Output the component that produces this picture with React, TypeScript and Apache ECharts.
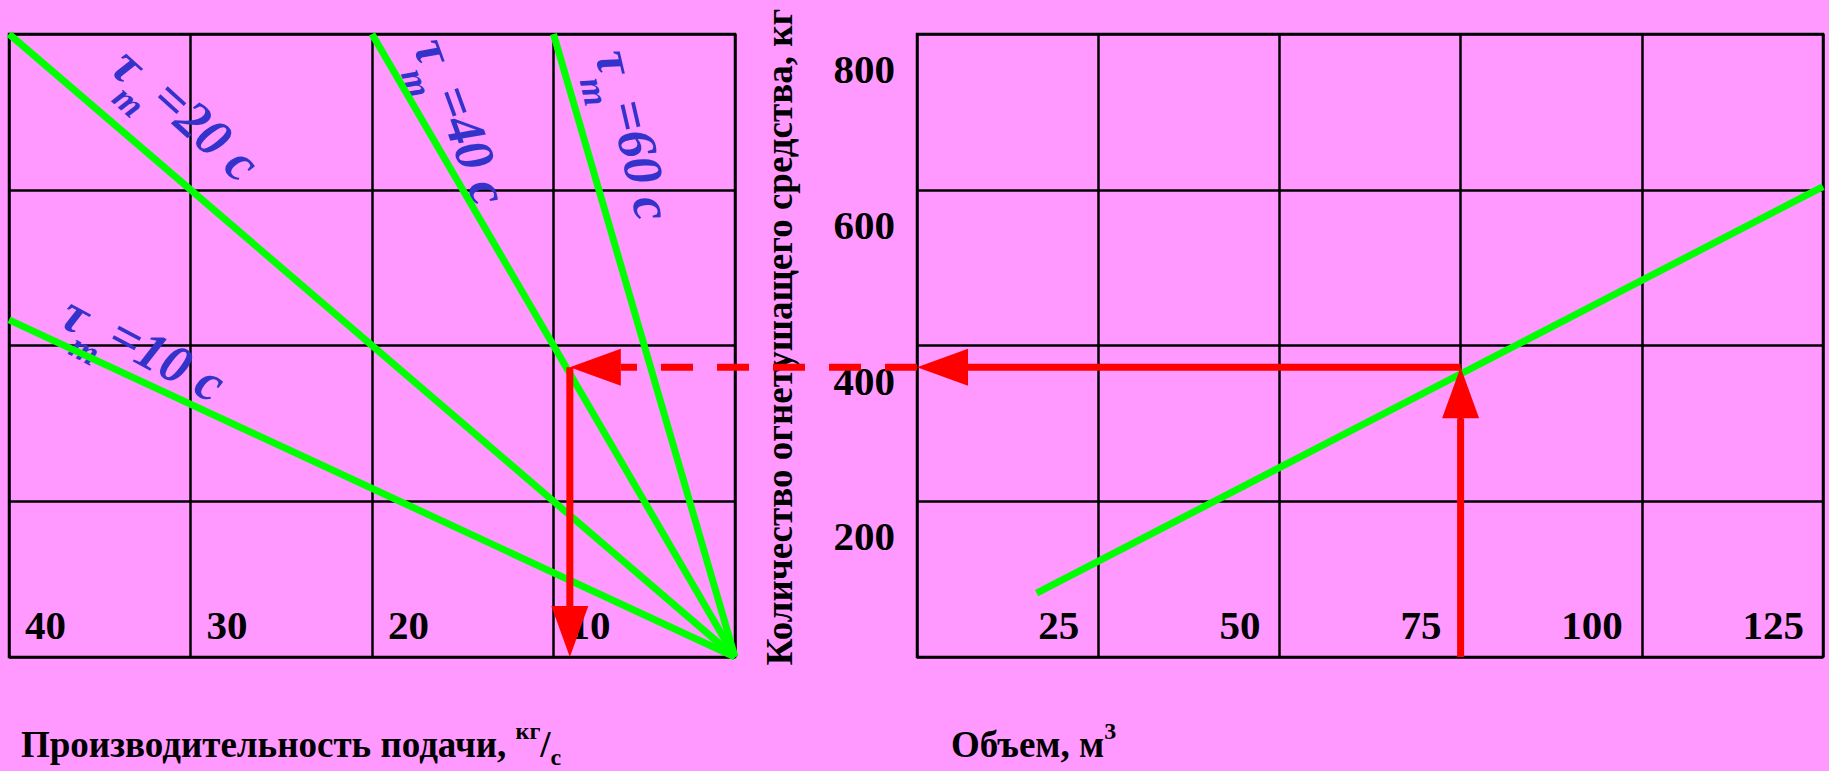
import { useEffect, useRef } from 'react';
import * as echarts from 'echarts';

// Feed rate, kg/s (left panel, increasing to the left)
const feedRateTicks = [0, 10, 20, 30, 40];
// Quantity of extinguishing agent, kg (shared vertical scale)
const quantityTicks = [0, 200, 400, 600, 800];
// Room volume, m³ (right panel)
const volumeTicks = [0, 25, 50, 75, 100, 125];

// Supply-time lines: [feed rate, quantity] end points
const supplyTimes = ['10', '20', '40', '60'];
const tau10Line = [[0, 0], [40, 433]];
const tau20Line = [[0, 0], [40, 800]];
const tau40Line = [[0, 0], [20, 800]];
const tau60Line = [[0, 0], [10, 800]];

// Quantity of agent versus room volume: [volume, quantity]
const volumeLine = [[16.5, 82], [125, 604]];

// Worked example traced with arrows
const exampleVolume = 75;
const exampleQuantity = 372;
const exampleFeedRate = 9.1;

// Where each τ caption sits (feed rate, quantity) and its slant in degrees
const tauLabelAnchors = [[36.3, 440], [33.4, 760], [16.6, 778], [6.6, 764]];
const tauLabelSlant = [28, 42, 70, 77];

const SERIF = '"Liberation Serif", "Times New Roman", Times, serif';
const BG = '#ff99ff';
const GREEN = '#00ff00';
const RED = '#ff0000';
const BLUE = '#3333cc';
const INK = '#000000';

const first = (a: number[]) => a[0];
const last = (a: number[]) => a[a.length - 1];
const step = (a: number[]) => a[1] - a[0];

export default function App() {
  const ref = useRef<HTMLDivElement>(null);

  useEffect(() => {
    const el = ref.current!;
    const chart = echarts.init(el, null, { renderer: 'svg' });

    const gridLine = { show: true, lineStyle: { color: INK, width: 2.5 } };
    const tickFont = { fontSize: 41, fontWeight: 'bold', fontFamily: SERIF, color: INK };
    const hideZero = (v: number) => (v === 0 ? '' : String(v));

    const greenLine = (data: number[][], gi: number) => ({
      type: 'line',
      xAxisIndex: gi,
      yAxisIndex: gi,
      data,
      symbol: 'none',
      clip: false,
      silent: true,
      lineStyle: { color: GREEN, width: 7 },
      z: 5,
    });

    chart.setOption({
      animation: false,
      backgroundColor: BG,
      grid: [
        { left: 9, top: 34, width: 726, height: 623, show: true, borderColor: INK, borderWidth: 2.5, backgroundColor: 'transparent' },
        { left: 917, top: 34, width: 906, height: 623, show: true, borderColor: INK, borderWidth: 2.5, backgroundColor: 'transparent' },
      ],
      xAxis: [
        {
          type: 'value', gridIndex: 0, inverse: true,
          min: first(feedRateTicks), max: last(feedRateTicks), interval: step(feedRateTicks),
          axisLine: { show: false }, axisTick: { show: false }, splitLine: gridLine,
          axisLabel: { ...tickFont, inside: true, margin: 12, align: 'left', verticalAlign: 'bottom', padding: [0, 0, 0, 16], formatter: hideZero },
        },
        {
          type: 'value', gridIndex: 1,
          min: first(volumeTicks), max: last(volumeTicks), interval: step(volumeTicks),
          axisLine: { show: false }, axisTick: { show: false }, splitLine: gridLine,
          axisLabel: { ...tickFont, inside: true, margin: 12, align: 'right', verticalAlign: 'bottom', padding: [0, 19, 0, 0], formatter: hideZero },
        },
      ],
      yAxis: [
        {
          type: 'value', gridIndex: 0,
          min: first(quantityTicks), max: last(quantityTicks), interval: step(quantityTicks),
          axisLine: { show: false }, axisTick: { show: false }, splitLine: gridLine,
          axisLabel: { show: false },
        },
        {
          type: 'value', gridIndex: 1,
          min: first(quantityTicks), max: last(quantityTicks), interval: step(quantityTicks),
          axisLine: { show: false }, axisTick: { show: false }, splitLine: gridLine,
          axisLabel: { ...tickFont, margin: 22, verticalAlign: 'top', lineHeight: 70, formatter: hideZero },
        },
      ],
      series: [
        greenLine(tau10Line, 0),
        greenLine(tau20Line, 0),
        greenLine(tau40Line, 0),
        greenLine(tau60Line, 0),
        greenLine(volumeLine, 1),
      ],
    });

    const px = (gi: number, pt: number[]) => chart.convertToPixel({ gridIndex: gi }, pt) as number[];

    const HEAD_LEN = 51;
    const HEAD_HALF = 18.5;
    const arrow = (from: number[], to: number[], dashed: boolean) => {
      const dx = to[0] - from[0];
      const dy = to[1] - from[1];
      const len = Math.hypot(dx, dy);
      const ux = dx / len;
      const uy = dy / len;
      const bx = to[0] - ux * HEAD_LEN;
      const by = to[1] - uy * HEAD_LEN;
      const nx = -uy;
      const ny = ux;
      return [
        {
          type: 'line', z: 50, silent: true,
          shape: { x1: from[0], y1: from[1], x2: bx, y2: by },
          style: { stroke: RED, lineWidth: 7, lineDash: dashed ? [32, 24] : null },
        },
        {
          type: 'polygon', z: 50, silent: true,
          shape: { points: [[to[0], to[1]], [bx + nx * HEAD_HALF, by + ny * HEAD_HALF], [bx - nx * HEAD_HALF, by - ny * HEAD_HALF]] },
          style: { fill: RED },
        },
      ];
    };

    const onVolumeLine = px(1, [exampleVolume, exampleQuantity]);
    const onQuantityAxis = px(1, [0, exampleQuantity]);
    const onTauLine = px(0, [exampleFeedRate, exampleQuantity]);
    const onFeedAxis = px(0, [exampleFeedRate, 0]);
    const volumeFoot = px(1, [exampleVolume, 0]);

    const arrows = [
      ...arrow(volumeFoot, onVolumeLine, false),
      ...arrow(onVolumeLine, onQuantityAxis, false),
      ...arrow(onQuantityAxis, onTauLine, true),
      ...arrow(onTauLine, onFeedAxis, false),
    ];

    const tauFont = { fontFamily: SERIF, fontWeight: 'bold', fontStyle: 'italic', fill: BLUE };
    const tauLabels = supplyTimes.map((t, i) => {
      const [x, y] = px(0, tauLabelAnchors[i]);
      return {
        type: 'group', x, y, z: 40, silent: true,
        rotation: (-tauLabelSlant[i] * Math.PI) / 180,
        children: [
          { type: 'text', x: 0, y: 0, style: { ...tauFont, text: 'τ', fontSize: 54, align: 'center', verticalAlign: 'middle' } },
          { type: 'text', x: 24, y: 27, style: { ...tauFont, text: 'm', fontSize: 36, align: 'center', verticalAlign: 'middle' } },
          { type: 'text', x: 40, y: -3, style: { ...tauFont, text: '=' + t + ' c', fontSize: 54, align: 'left', verticalAlign: 'middle' } },
        ],
      };
    });

    const titleRich = {
      a: { fontSize: 37, fontWeight: 'bold', fontFamily: SERIF, color: INK, lineHeight: 50 },
      sup: { fontSize: 24, fontWeight: 'bold', fontFamily: SERIF, color: INK, lineHeight: 24, verticalAlign: 'top' },
      sub: { fontSize: 24, fontWeight: 'bold', fontFamily: SERIF, color: INK, lineHeight: 24, verticalAlign: 'bottom' },
    };

    const titles = [
      {
        type: 'text', x: 21, y: 744, z: 30, silent: true,
        style: { text: '{a|Производительность подачи, }{sup|кг}{a|/}{sub|с}', rich: titleRich, align: 'left', verticalAlign: 'middle' },
      },
      {
        type: 'text', x: 951, y: 744, z: 30, silent: true,
        style: { text: '{a|Объем, м}{sup|3}', rich: titleRich, align: 'left', verticalAlign: 'middle' },
      },
      {
        type: 'text', x: 779, y: 337, z: 30, silent: true, rotation: Math.PI / 2,
        style: { text: 'Количество огнетушащего средства, кг', fontSize: 37, fontWeight: 'bold', fontFamily: SERIF, fill: INK, align: 'center', verticalAlign: 'middle' },
      },
    ];

    chart.setOption({ graphic: [...arrows, ...tauLabels, ...titles] });

    return () => chart.dispose();
  }, []);

  return (
    <div
      ref={ref}
      style={{ position: 'fixed', left: 0, top: 0, width: 1829, height: 771, background: BG }}
    />
  );
}
